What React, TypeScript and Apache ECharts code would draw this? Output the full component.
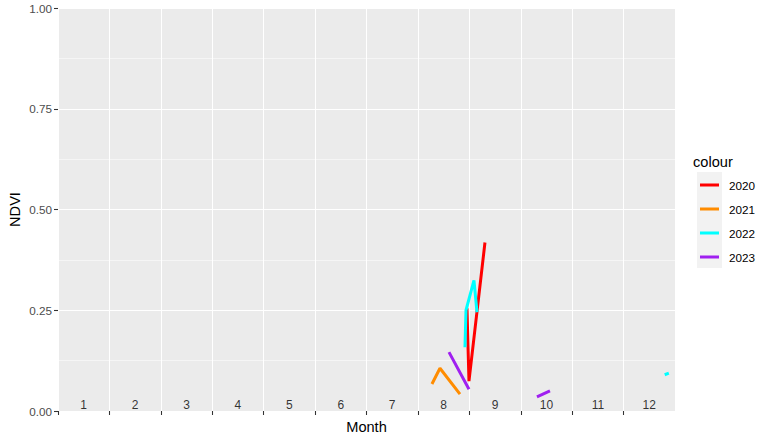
import React, { useEffect, useRef } from "react";
import * as echarts from "echarts";

const FONT = "Liberation Sans, Arial, Helvetica, sans-serif";

const years = ["2020", "2021", "2022", "2023"];
const colors = ["#FF0000", "#FF8C00", "#00FFFF", "#A020F0"];

// [month position (0-12), NDVI]; null breaks the line
const ndvi2020: (number[] | null)[] = [[7.954, 0.255], [7.993, 0.074], [8.304, 0.418]];
const ndvi2021: (number[] | null)[] = [[7.273, 0.067], [7.429, 0.106], [7.818, 0.042]];
const ndvi2022: (number[] | null)[] = [
  [7.915, 0.158], [7.935, 0.25], [8.09, 0.324], [8.149, 0.245], null,
  [11.8, 0.09], [11.88, 0.094],
];
const ndvi2023: (number[] | null)[] = [
  [7.604, 0.146], [7.993, 0.054], null, [9.315, 0.035], [9.568, 0.05],
];

const monthLabels = ["1", "2", "3", "4", "5", "6", "7", "8", "9", "10", "11", "12"];
const monthLabelY = 0.016;
const yTicks = [0, 0.25, 0.5, 0.75, 1];
const xTicks = [0, 1, 2, 3, 4, 5, 6, 7, 8, 9, 10, 11];

export default function App() {
  const ref = useRef<HTMLDivElement>(null);
  useEffect(() => {
    document.body.style.margin = "0";
    const chart = echarts.init(ref.current!, null, { renderer: "svg" });
    const seriesData = [ndvi2020, ndvi2021, ndvi2022, ndvi2023];
    const toData = (arr: (number[] | null)[]) => arr.map((p) => (p ? p : [null, null]));
    chart.setOption({
      animation: false,
      textStyle: { fontFamily: FONT },
      grid: {
        left: 58, right: 98, top: 8, bottom: 31,
        outerBoundsMode: "none", containLabel: false,
        show: true, backgroundColor: "#EBEBEB", borderWidth: 0,
      },
      xAxis: {
        type: "value", min: 0, max: 12, interval: 1,
        name: "Month", nameLocation: "middle", nameGap: 8, nameMoveOverlap: false,
        nameTextStyle: { fontSize: 14.6, color: "#000", fontFamily: FONT },
        axisLine: { show: false },
        axisTick: { show: true, length: 4, lineStyle: { color: "#333", width: 1.07 }, customValues: xTicks },
        axisLabel: { show: false },
        splitLine: { show: true, lineStyle: { color: "#FFFFFF", width: 1.07 } },
      },
      yAxis: {
        type: "value", min: 0, max: 1, interval: 0.25,
        name: "NDVI", nameLocation: "middle", nameGap: 36, nameRotate: 90, nameMoveOverlap: false,
        nameTextStyle: { fontSize: 14.6, color: "#000", fontFamily: FONT },
        axisLine: { show: false },
        axisTick: { show: true, length: 4, lineStyle: { color: "#333", width: 1.07 } },
        axisLabel: {
          margin: 6, fontSize: 11.7, color: "#4D4D4D", fontFamily: FONT,
          formatter: (v: number) => (yTicks.includes(v) ? v.toFixed(2) : ""),
        },
        splitLine: { show: true, lineStyle: { color: "#FFFFFF", width: 1.07 } },
        minorTick: { show: false, splitNumber: 2 },
        minorSplitLine: { show: true, lineStyle: { color: "#FFFFFF", width: 0.53 } },
      },
      legend: {
        data: years,
        orient: "vertical",
        left: 700, top: 179, padding: 0,
        icon: "rect", itemWidth: 19, itemHeight: 3, itemGap: 12,
        textStyle: { fontSize: 11.7, color: "#000", fontFamily: FONT, padding: [0, 0, 0, 5] },
      },
      graphic: [
        { type: "rect", left: 697, top: 172, shape: { width: 25, height: 96 }, style: { fill: "#F2F2F2" }, z: -1 },
        { type: "text", left: 693, top: 154, style: { text: "colour", fontSize: 14.6, fill: "#000", fontFamily: FONT } },
      ],
      series: [
        ...years.map((y, i) => ({
          name: y,
          type: "line",
          data: toData(seriesData[i]),
          showSymbol: false,
          connectNulls: false,
          itemStyle: { color: colors[i] },
          lineStyle: { color: colors[i], width: 3 },
        })),
        {
          name: "months",
          type: "scatter",
          symbolSize: 1,
          itemStyle: { color: "rgba(0,0,0,0)" },
          data: monthLabels.map((m, i) => ({ name: m, value: [i + 0.5, monthLabelY] })),
          label: {
            show: true, position: "inside", formatter: "{b}",
            fontSize: 12, color: "#000", fontFamily: FONT,
          },
          silent: true,
        },
      ],
    });
    return () => chart.dispose();
  }, []);
  return <div ref={ref} style={{ position: "absolute", left: 0, top: 0, width: 773, height: 442 }} />;
}
